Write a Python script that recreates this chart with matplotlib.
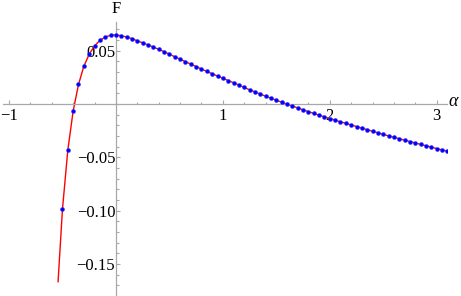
import matplotlib
matplotlib.use('Agg')
import matplotlib.pyplot as plt
from matplotlib.ticker import MultipleLocator, FixedLocator, FuncFormatter

alpha = [-0.50, -0.45, -0.40, -0.35, -0.30, -0.25, -0.20, -0.15, -0.10, -0.05,
         0.00, 0.05, 0.10, 0.15, 0.20, 0.25, 0.30, 0.35, 0.40, 0.45,
         0.50, 0.55, 0.60, 0.65, 0.70, 0.75, 0.80, 0.85, 0.90, 0.95,
         1.00, 1.05, 1.10, 1.15, 1.20, 1.25, 1.30, 1.35, 1.40, 1.45,
         1.50, 1.55, 1.60, 1.65, 1.70, 1.75, 1.80, 1.85, 1.90, 1.95,
         2.00, 2.05, 2.10, 2.15, 2.20, 2.25, 2.30, 2.35, 2.40, 2.45,
         2.50, 2.55, 2.60, 2.65, 2.70, 2.75, 2.80, 2.85, 2.90, 2.95,
         3.00, 3.05, 3.10]
F = [-0.0988, -0.0434, -0.0066, 0.0183, 0.0354, 0.0466, 0.0545, 0.0596, 0.0628, 0.0644,
     0.0647, 0.0640, 0.0628, 0.0612, 0.0593, 0.0573, 0.0554, 0.0534, 0.0513, 0.0491,
     0.0467, 0.0443, 0.0420, 0.0397, 0.0374, 0.0351, 0.0328, 0.0305, 0.0284, 0.0262,
     0.0241, 0.0220, 0.0199, 0.0178, 0.0155, 0.0133, 0.0113, 0.0093, 0.0073, 0.0054,
     0.0035, 0.0017, -0.0001, -0.0019, -0.0037, -0.0055, -0.0072, -0.0088, -0.0105, -0.0121,
     -0.0137, -0.0152, -0.0167, -0.0182, -0.0197, -0.0212, -0.0227, -0.0241, -0.0256, -0.0270,
     -0.0285, -0.0299, -0.0313, -0.0326, -0.0340, -0.0353, -0.0366, -0.0379, -0.0392, -0.0405,
     -0.0418, -0.0431, -0.0444]

# red curve starts a bit below the first dot
line_start_alpha = -0.541
line_start_F = -0.1667

x_major = [-1, 1, 2, 3]
y_major = [-0.15, -0.10, -0.05, 0.05]

plt.rcParams['font.family'] = ['Liberation Serif', 'DejaVu Serif']
axis_grey = '#a8a8a8'

fig = plt.figure(figsize=(4.61, 2.96), dpi=100)
ax = fig.add_axes([3 / 461, 0, 444 / 461, 274 / 296])

ax.plot([line_start_alpha] + alpha, [line_start_F] + F, color='#ff0000', lw=1.0, zorder=2)
ax.plot(alpha, F, 'o', color='#0000ff', ms=2.8, mec='#3030ff', mew=0.4, zorder=3)

ax.set_xlim(-1.056, 3.096)
ax.set_ylim(-0.1801, 0.0769)

# axes through the origin, Mathematica style
for side in ['top', 'right']:
    ax.spines[side].set_visible(False)
ax.spines['left'].set_position(('data', 0))
ax.spines['bottom'].set_position(('data', 0))
for side in ['left', 'bottom']:
    ax.spines[side].set_color(axis_grey)
    ax.spines[side].set_linewidth(0.9)

ax.xaxis.set_major_locator(FixedLocator(x_major))
ax.xaxis.set_minor_locator(MultipleLocator(0.2))
ax.yaxis.set_major_locator(FixedLocator(y_major))
ax.yaxis.set_minor_locator(MultipleLocator(0.01))
ax.xaxis.set_major_formatter(FuncFormatter(lambda v, p: f'{v:.0f}'.replace('-', '\u2212')))
ax.yaxis.set_major_formatter(FuncFormatter(lambda v, p: f'{v:.2f}'.replace('-', '\u2212')))

ax.tick_params(which='both', direction='in', color=axis_grey, width=0.8, labelsize=12,
               labelcolor='black')
ax.tick_params(which='major', length=3.2)
ax.tick_params(which='minor', length=1.8)
ax.tick_params(axis='x', which='major', pad=3)
ax.tick_params(axis='y', which='major', pad=0.5)

fig.text(116 / 461, 1 - 9 / 296, 'F', ha='center', va='center', fontsize=12)
fig.text(453 / 461, 1 - 102 / 296, '\u03b1', ha='center', va='center', fontsize=13,
         style='italic')

fig.savefig('out.png', dpi=100)
